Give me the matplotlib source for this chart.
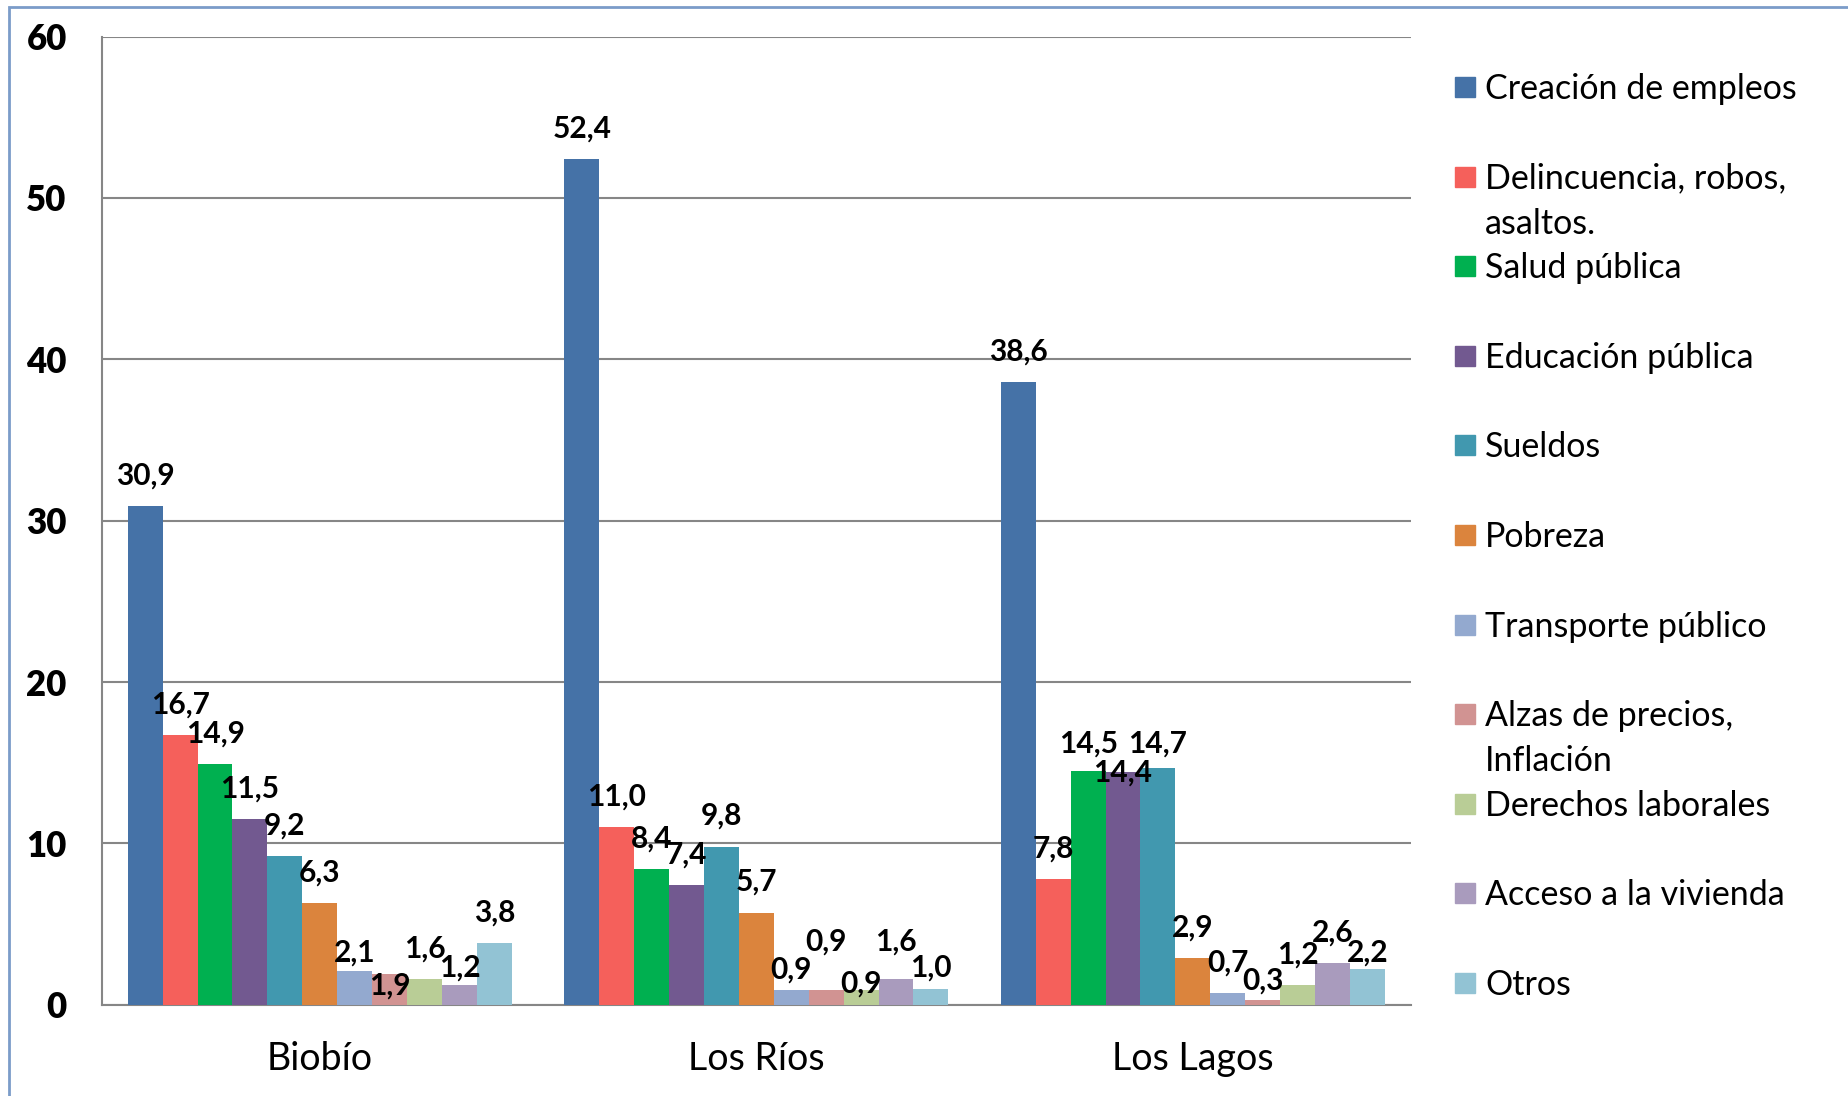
import matplotlib.pyplot as plt
import numpy as np
from matplotlib.patches import Rectangle

plt.rcParams['font.family'] = ['Lato', 'DejaVu Sans']

regions = ["Biobío", "Los Ríos", "Los Lagos"]
series = ["Creación de empleos", "Delincuencia, robos,\nasaltos.", "Salud pública",
          "Educación pública", "Sueldos", "Pobreza", "Transporte público",
          "Alzas de precios,\nInflación", "Derechos laborales", "Acceso a la vivienda", "Otros"]
colors = ["#4572A7", "#F5605B", "#00B050", "#725990", "#4198AF", "#DB843D",
          "#93A9CF", "#D19392", "#B9CD96", "#A99BBD", "#92C3D4"]

biobio = [30.9, 16.7, 14.9, 11.5, 9.2, 6.3, 2.1, 1.9, 1.6, 1.2, 3.8]
los_rios = [52.4, 11.0, 8.4, 7.4, 9.8, 5.7, 0.9, 0.9, 0.9, 1.6, 1.0]
los_lagos = [38.6, 7.8, 14.5, 14.4, 14.7, 2.9, 0.7, 0.3, 1.2, 2.6, 2.2]
values = np.array([biobio, los_rios, los_lagos])

# label placement (distance above bar top, data units); default 1.9
label_shift = {(0, 6): 1.1, (0, 7): -0.7, (0, 9): 1.1,
               (1, 6): 1.3, (1, 7): 3.0, (1, 8): 0.4, (1, 9): 2.3, (1, 10): 1.3,
               (2, 2): 1.7, (2, 3): 0.0, (2, 4): 1.5, (2, 7): 1.2, (2, 10): 1.0}

fig = plt.figure(figsize=(18.49, 10.96), dpi=100)
ax = fig.add_axes([0.0549, 0.0833, 0.7083, 0.8833])

n = len(series)
w = 1 / 12.5
x = np.arange(len(regions))
for i in range(n):
    pos = x - n * w / 2 + (i + 0.5) * w
    ax.bar(pos, values[:, i], width=w, color=colors[i], zorder=3)
    for g in range(len(regions)):
        v = values[g, i]
        ax.text(pos[g], v + label_shift.get((g, i), 1.9), f"{v:.1f}".replace('.', ','),
                ha='center', va='center', fontsize=21.5, fontweight='bold', zorder=4)

ax.set_xlim(-0.5, 2.5)
ax.set_ylim(0, 60)
ax.set_yticks(range(0, 61, 10))
ax.set_xticks(x)
ax.set_xticklabels(regions, fontsize=27)
for t in ax.get_yticklabels():
    t.set_fontsize(25)
    t.set_fontweight('heavy')
ax.tick_params(axis='y', length=0, pad=25)
ax.tick_params(axis='x', length=0, pad=26)
ax.yaxis.grid(True, color='#868686', linewidth=1.5, zorder=0)
for s in ['top', 'right']:
    ax.spines[s].set_visible(False)
for s in ['left', 'bottom']:
    ax.spines[s].set_color('#868686')
    ax.spines[s].set_linewidth(1.5)

# legend
ly0 = 1 - 87 / 1096
step = 89.6 / 1096
for i in range(n):
    y = ly0 - i * step
    fig.patches.append(Rectangle((1455 / 1849, y - 10 / 1096), 20 / 1849, 20 / 1096,
                                 transform=fig.transFigure, color=colors[i]))
    fig.text(1485 / 1849, y + 14 / 1096, series[i], fontsize=24.5, va='top', ha='left',
             linespacing=1.5)

# outer frame
fig.patches.append(Rectangle((9 / 1849, -0.1), 1.2, 1 - 7 / 1096 + 0.1,
                             transform=fig.transFigure, fill=False,
                             edgecolor='#7B9CC9', linewidth=2))

fig.savefig("out.png", dpi=100)
